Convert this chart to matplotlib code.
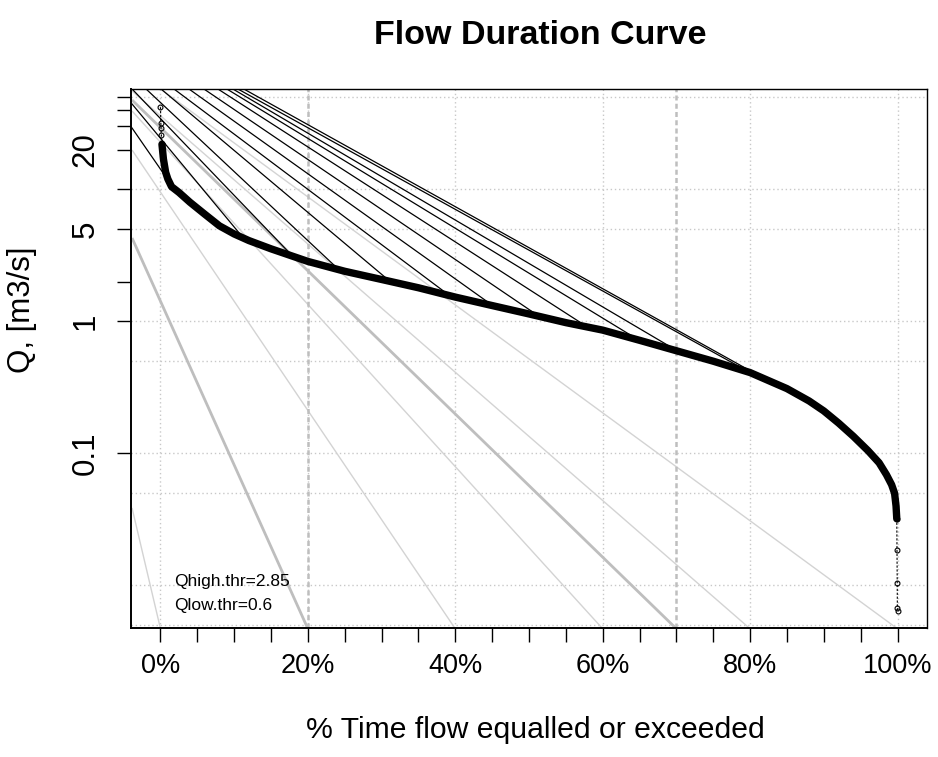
import numpy as np
import matplotlib
matplotlib.use("Agg")
import matplotlib.pyplot as plt

plt.rcParams['font.family'] = ['Liberation Sans', 'DejaVu Sans']

# ---- data ----
# flow duration curve (dense band)
fdc_pct = [0.2, 0.4, 0.7, 1.0, 1.5, 2.5, 4, 6, 8, 10, 12, 15, 20, 25, 30, 35, 40, 45, 50,
           55, 60, 65, 70, 75, 80, 85, 88, 90, 92, 94, 96, 97.5, 98.5, 99.2, 99.6, 99.8, 99.9]
fdc_q = [22, 17, 13.5, 12, 10.5, 9.5, 8, 6.5, 5.3, 4.6, 4.1, 3.55, 2.85, 2.4, 2.08, 1.8, 1.53,
         1.32, 1.14, 0.98, 0.86, 0.72, 0.60, 0.50, 0.41, 0.31, 0.25, 0.21, 0.17, 0.135, 0.105,
         0.085, 0.069, 0.058, 0.050, 0.040, 0.032]
# sparse extreme points (individual circles)
top_pct = [0.0, 0.05, 0.08, 0.12, 0.2]
top_q = [42, 32, 29, 26, 22]
tail_pct = [99.9, 99.93, 99.96, 99.98, 100.0]
tail_q = [0.032, 0.0185, 0.0104, 0.0068, 0.0064]

# grey lines: start on the left/top border, end on the bottom axis
grey_start_pct = [-3.86, -3.86, -3.86, -3.86, -3.86, -3.86, 0.0]
grey_start_q = [0.0387, 4.29, 19.9, 39.3, 47.6, 55.7, 57.7]
grey_end_pct = [0, 20, 40, 60, 70, 80, 100]
grey_thick = [False, True, False, False, True, False, False]
grey_end_q = 0.0047

# black lines: start on the top/left border, end on the curve
black_start_pct = [-3.86, -3.86, -3.86, -1.96, 0.07, 1.83, 3.86, 5.89, 7.79, 9.0, 9.82, 10.5, 11.3]
black_start_q = [29.2, 44.4, 57.7, 57.7, 57.7, 57.7, 57.7, 57.7, 57.7, 57.7, 57.7, 57.7, 57.7]
black_end_pct = [0.88, 11.0, 18.1, 24.4, 31.2, 38.9, 44.75, 51.1, 57.9, 65.3, 70.1, 80.0, 80.8]
black_end_q = [12.1, 4.45, 3.05, 2.41, 2.0, 1.62, 1.36, 1.12, 0.91, 0.7, 0.6, 0.41, 0.4]

# thresholds
hq_thr_pct = 20
lq_thr_pct = 70
q_high_thr = 2.85
q_low_thr = 0.6

x_major = [0, 20, 40, 60, 80, 100]
x_ticks = list(range(0, 101, 5))
y_ticks = [0.1, 1, 2, 5, 10, 20, 30, 40, 50]
y_ticklabels = ['0.1', '1', '', '5', '', '20', '', '', '']
grid_y = [0.005, 0.01, 0.05, 0.1, 0.5, 1, 5, 10, 50]

# ---- figure ----
W, H = 938, 757
fig = plt.figure(figsize=(W / 100, H / 100), dpi=100)
L, R, T, B = 131, 927, 89, 628
ax = fig.add_axes([L / W, 1 - B / H, (R - L) / W, (B - T) / H])
ax.set_yscale('log')
ax.set_xlim(-4, 104)
ax.set_ylim(10 ** -2.322, 10 ** 1.761)

grid_kw = dict(color='#C8C8C8', lw=1.0, linestyle=(0, (1, 2)), zorder=1)
for gy in grid_y:
    ax.axhline(gy, **grid_kw)
for gx in x_major:
    ax.axvline(gx, **grid_kw)

for xs, qs, xe, thick in zip(grey_start_pct, grey_start_q, grey_end_pct, grey_thick):
    ax.plot([xs, xe], [qs, grey_end_q],
            color='#BEBEBE' if thick else '#D3D3D3', lw=2.0 if thick else 1.0,
            zorder=2, solid_capstyle='butt')

for xs, qs, xe, qe in zip(black_start_pct, black_start_q, black_end_pct, black_end_q):
    ax.plot([xs, xe], [qs, qe], color='black', lw=0.9, zorder=3)

for v in (hq_thr_pct, lq_thr_pct):
    ax.axvline(v, color='#BEBEBE', lw=1.8, linestyle=(0, (2, 1.3)), zorder=2)

ax.plot(fdc_pct, fdc_q, color='black', lw=5.3, zorder=4, solid_capstyle='round')
ax.plot(top_pct, top_q, color='black', lw=0.8, linestyle=(0, (2, 1.5)), marker='o',
        mfc='none', mec='black', ms=3.5, mew=0.8, zorder=4)
ax.plot(tail_pct, tail_q, color='black', lw=0.8, linestyle=(0, (2, 1.5)), marker='o',
        mfc='none', mec='black', ms=3.5, mew=0.8, zorder=4)

ax.text(1.9, 0.0108, f"Qhigh.thr={q_high_thr}", fontsize=12.5, va='center', ha='left')
ax.text(1.9, 0.0070, f"Qlow.thr={q_low_thr}", fontsize=12.5, va='center', ha='left')

ax.set_xticks(x_ticks)
ax.set_xticklabels([f"{t}%" if t in x_major else '' for t in x_ticks], fontsize=19.5)
ax.set_yticks(y_ticks)
ax.set_yticklabels(y_ticklabels, fontsize=22.5, rotation=90, va='center')
ax.yaxis.set_minor_locator(matplotlib.ticker.NullLocator())
ax.tick_params(axis='both', length=10, width=1.0, direction='out')
ax.tick_params(axis='x', pad=8)
ax.tick_params(axis='y', pad=12)

for s in ax.spines.values():
    s.set_linewidth(1.0)
ax.spines['left'].set_linewidth(1.4)
ax.spines['bottom'].set_linewidth(1.4)

fig.text(535 / W, 1 - 730 / H, '% Time flow equalled or exceeded', fontsize=21.7,
         ha='center', va='center')
fig.text(22 / W, 1 - 310 / H, 'Q, [m3/s]', fontsize=22.5, rotation=90,
         ha='center', va='center')
fig.text(540 / W, 1 - 35 / H, 'Flow Duration Curve', fontsize=24.5,
         fontweight='bold', ha='center', va='center')

fig.savefig('out.png', dpi=100)
